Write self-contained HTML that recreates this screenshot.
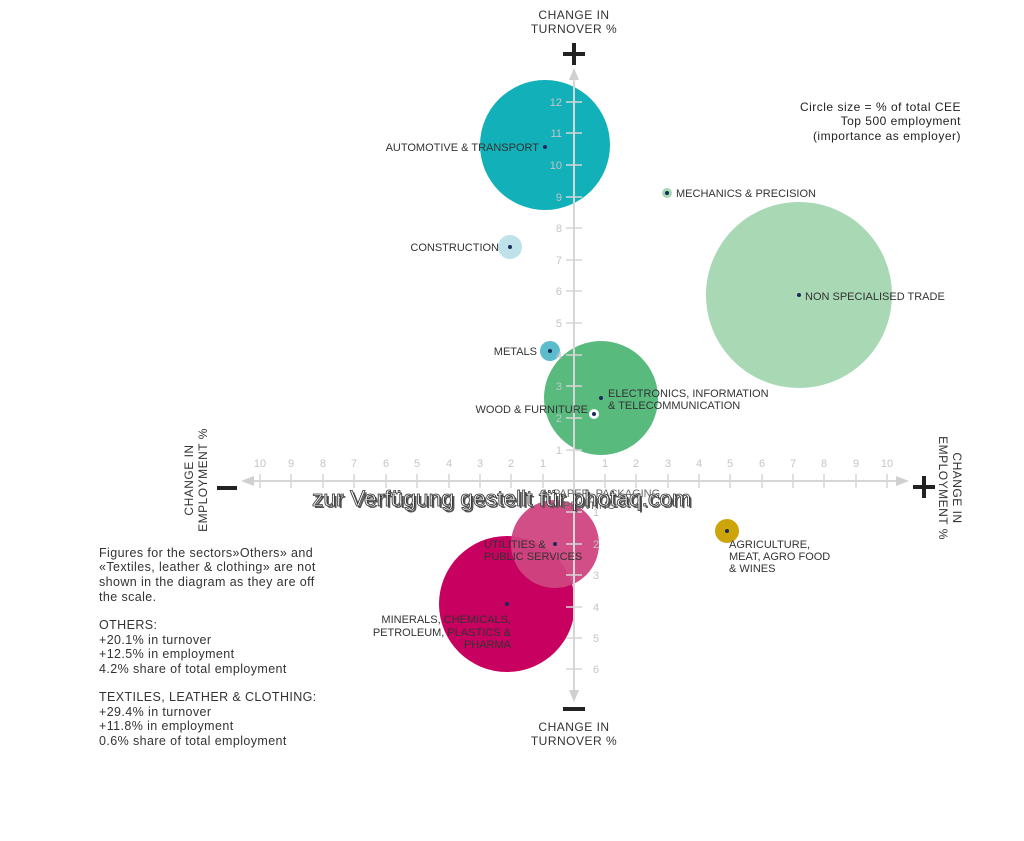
<!DOCTYPE html>
<html><head><meta charset="utf-8"><style>
html,body{margin:0;padding:0;background:#fff;}
svg{display:block;font-family:"Liberation Sans",sans-serif;}
</style></head><body>
<svg width="1024" height="841" viewBox="0 0 1024 841" xmlns="http://www.w3.org/2000/svg">
<circle cx="545" cy="145" r="65" fill="#12b0b9"/>
<circle cx="799" cy="295" r="93" fill="#a8d8b4"/>
<circle cx="601" cy="398" r="57" fill="#59ba7e"/>
<circle cx="507" cy="604" r="68" fill="#c8005f"/>
<circle cx="555" cy="544" r="44" fill="#d0457f" opacity="0.95"/>
<circle cx="510" cy="247" r="12" fill="#bfe2ea"/>
<circle cx="550" cy="351" r="10" fill="#5bbccb"/>
<circle cx="667" cy="193" r="5" fill="#a8d8b4"/>
<circle cx="727" cy="531" r="12" fill="#cda50a"/>
<circle cx="594" cy="414" r="5" fill="#fff"/>
<g stroke="#d6d6d6" stroke-width="2" fill="none">
<line x1="574" y1="78" x2="574" y2="692"/>
<line x1="252" y1="481" x2="898" y2="481"/>
</g>
<g fill="#d0d0d0">
<polygon points="569,80 579,80 574,68"/>
<polygon points="569,690 579,690 574,702"/>
<polygon points="254,476 254,486 241,481"/>
<polygon points="896,476 896,486 909,481"/>
</g>
<g stroke="#d6d6d6" stroke-width="1.5">
<line x1="260" y1="474" x2="260" y2="488"/><line x1="291" y1="474" x2="291" y2="488"/><line x1="323" y1="474" x2="323" y2="488"/><line x1="354" y1="474" x2="354" y2="488"/><line x1="386" y1="474" x2="386" y2="488"/><line x1="417" y1="474" x2="417" y2="488"/><line x1="449" y1="474" x2="449" y2="488"/><line x1="480" y1="474" x2="480" y2="488"/><line x1="511" y1="474" x2="511" y2="488"/><line x1="543" y1="474" x2="543" y2="488"/>
<line x1="605" y1="474" x2="605" y2="488"/><line x1="636" y1="474" x2="636" y2="488"/><line x1="668" y1="474" x2="668" y2="488"/><line x1="699" y1="474" x2="699" y2="488"/><line x1="730" y1="474" x2="730" y2="488"/><line x1="762" y1="474" x2="762" y2="488"/><line x1="793" y1="474" x2="793" y2="488"/><line x1="824" y1="474" x2="824" y2="488"/><line x1="856" y1="474" x2="856" y2="488"/><line x1="887" y1="474" x2="887" y2="488"/>
<line x1="566" y1="450" x2="582" y2="450"/><line x1="566" y1="418" x2="582" y2="418"/><line x1="566" y1="386" x2="582" y2="386"/><line x1="566" y1="355" x2="582" y2="355"/><line x1="566" y1="323" x2="582" y2="323"/><line x1="566" y1="291" x2="582" y2="291"/><line x1="566" y1="260" x2="582" y2="260"/><line x1="566" y1="228" x2="582" y2="228"/><line x1="566" y1="197" x2="582" y2="197"/><line x1="566" y1="165" x2="582" y2="165"/><line x1="566" y1="133" x2="582" y2="133"/><line x1="566" y1="102" x2="582" y2="102"/>
<line x1="566" y1="512" x2="582" y2="512"/><line x1="566" y1="544" x2="582" y2="544"/><line x1="566" y1="575" x2="582" y2="575"/><line x1="566" y1="607" x2="582" y2="607"/><line x1="566" y1="638" x2="582" y2="638"/><line x1="566" y1="669" x2="582" y2="669"/>
</g>
<g fill="#c4c4c4" font-size="11" text-anchor="middle">
<text x="260" y="467">10</text><text x="291" y="467">9</text><text x="323" y="467">8</text><text x="354" y="467">7</text><text x="386" y="467">6</text><text x="417" y="467">5</text><text x="449" y="467">4</text><text x="480" y="467">3</text><text x="511" y="467">2</text><text x="543" y="467">1</text>
<text x="605" y="467">1</text><text x="636" y="467">2</text><text x="668" y="467">3</text><text x="699" y="467">4</text><text x="730" y="467">5</text><text x="762" y="467">6</text><text x="793" y="467">7</text><text x="824" y="467">8</text><text x="856" y="467">9</text><text x="887" y="467">10</text>
</g>
<g fill="#c4c4c4" font-size="11" text-anchor="end">
<text x="562" y="454">1</text><text x="562" y="422">2</text><text x="562" y="390">3</text><text x="562" y="359">4</text><text x="562" y="327">5</text><text x="562" y="295">6</text><text x="562" y="264">7</text><text x="562" y="232">8</text><text x="562" y="201">9</text><text x="562" y="169">10</text><text x="562" y="137">11</text><text x="562" y="106">12</text>
</g>
<g fill="#c4c4c4" font-size="11">
<text x="593" y="516">1</text><text x="593" y="548">2</text><text x="593" y="579">3</text><text x="593" y="611">4</text><text x="593" y="642">5</text><text x="593" y="673">6</text>
</g>
<g fill="#222">
<rect x="563" y="52" width="22" height="4"/><rect x="572" y="43" width="4" height="22"/>
<rect x="913" y="485" width="22" height="4"/><rect x="922" y="476" width="4" height="22"/>
<rect x="217" y="486" width="20" height="4"/>
<rect x="563" y="707" width="22" height="4"/>
</g>
<g fill="#333" font-size="12" text-anchor="middle" letter-spacing="0.5">
<text x="574" y="19">CHANGE IN</text><text x="574" y="33">TURNOVER %</text>
<text x="574" y="731">CHANGE IN</text><text x="574" y="745">TURNOVER %</text>
<text transform="translate(193,480) rotate(-90)">CHANGE IN</text>
<text transform="translate(207,480) rotate(-90)">EMPLOYMENT %</text>
<text transform="translate(953,488) rotate(90)">CHANGE IN</text>
<text transform="translate(939,488) rotate(90)">EMPLOYMENT %</text>
</g>
<g fill="#1a2a5a">
<circle cx="545" cy="147" r="2"/><circle cx="510" cy="247" r="2"/><circle cx="667" cy="193" r="2"/><circle cx="799" cy="295" r="2"/><circle cx="550" cy="351" r="2"/><circle cx="601" cy="398" r="2"/><circle cx="594" cy="414" r="2"/><circle cx="555" cy="544" r="2"/><circle cx="507" cy="604" r="2"/><circle cx="727" cy="531" r="2"/>
</g>
<g fill="#333" font-size="11">
<text x="539" y="151" text-anchor="end">AUTOMOTIVE &amp; TRANSPORT</text>
<text x="499" y="251" text-anchor="end">CONSTRUCTION</text>
<text x="676" y="197">MECHANICS &amp; PRECISION</text>
<text x="805" y="300">NON SPECIALISED TRADE</text>
<text x="537" y="355" text-anchor="end">METALS</text>
<text x="608" y="397">ELECTRONICS, INFORMATION</text>
<text x="608" y="409">&amp; TELECOMMUNICATION</text>
<text x="588" y="413" text-anchor="end">WOOD &amp; FURNITURE</text>
<text x="553" y="497" fill="#666">PAPER, PACKAGING</text>
<text x="563" y="509" fill="#666">PRINTING</text>
<text x="484" y="548">UTILITIES &amp;</text>
<text x="484" y="560">PUBLIC SERVICES</text>
<text x="729" y="548">AGRICULTURE,</text>
<text x="729" y="560">MEAT, AGRO FOOD</text>
<text x="729" y="572">&amp; WINES</text>
<text x="511" y="623" text-anchor="end">MINERALS, CHEMICALS,</text>
<text x="511" y="636" text-anchor="end">PETROLEUM, PLASTICS &amp;</text>
<text x="511" y="648" text-anchor="end">PHARMA</text>
</g>
<g fill="#222" font-size="12" text-anchor="end" letter-spacing="0.5">
<text x="961" y="111">Circle size = % of total CEE</text>
<text x="961" y="125">Top 500 employment</text>
<text x="961" y="140">(importance as employer)</text>
</g>
<g fill="#333" font-size="12.5" letter-spacing="0.4">
<text x="99" y="557">Figures for the sectors»Others» and</text>
<text x="99" y="571">«Textiles, leather &amp; clothing»  are not</text>
<text x="99" y="586">shown in the diagram as they are off</text>
<text x="99" y="601">the scale.</text>
<text x="99" y="629">OTHERS:</text>
<text x="99" y="644">+20.1% in turnover</text>
<text x="99" y="658">+12.5% in employment</text>
<text x="99" y="673">4.2% share of total employment</text>
<text x="99" y="701">TEXTILES, LEATHER &amp; CLOTHING:</text>
<text x="99" y="716">+29.4% in turnover</text>
<text x="99" y="730">+11.8% in employment</text>
<text x="99" y="745">0.6% share of total employment</text>
</g>
<text x="314" y="508" font-size="22" fill="#555" textLength="379" lengthAdjust="spacingAndGlyphs">zur Verfügung gestellt für photaq.com</text>
<text x="312" y="506" font-size="22" fill="#f4f4f4" stroke="#333" stroke-width="0.8" textLength="379" lengthAdjust="spacingAndGlyphs">zur Verfügung gestellt für photaq.com</text>
</svg>
</body></html>
